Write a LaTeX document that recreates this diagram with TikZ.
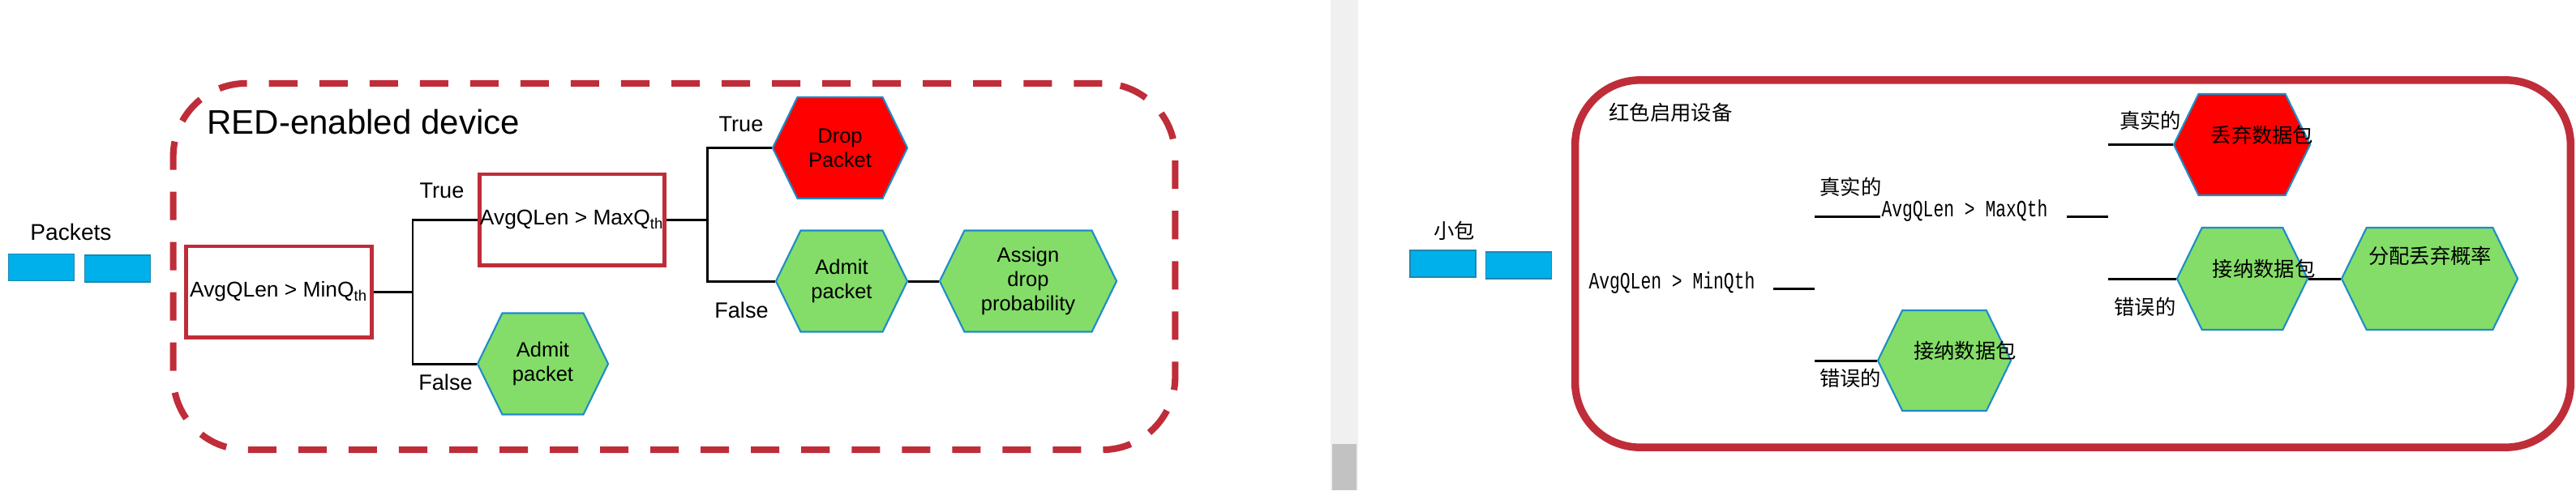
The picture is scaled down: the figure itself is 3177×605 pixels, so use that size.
\documentclass[tikz,border=0pt]{standalone}
\usepackage{fontspec}
\setmainfont{Liberation Sans}
\newfontfamily\cjk{Noto Sans CJK SC}
\newfontfamily\halfmono[FakeStretch=0.74]{Liberation Mono}
\usetikzlibrary{shapes.symbols}
\definecolor{redline}{HTML}{BF2D39}
\definecolor{pktblue}{HTML}{00B0EA}
\definecolor{pktedge}{HTML}{1C87B2}
\definecolor{hexgreen}{HTML}{84DD68}
\definecolor{hexred}{HTML}{FF0000}
\definecolor{hexedge}{HTML}{1E8CC8}

\begin{document}
\begin{tikzpicture}[x=0.01cm,y=-0.01cm,-,line width=0.85pt,
  pkt node/.style={rectangle,draw=pktedge,fill=pktblue,line width=0.5pt,minimum width=0.81cm,minimum height=0.33cm,inner sep=0pt},
  test node/.style={rectangle,draw=redline,line width=1.4pt,minimum height=1.12cm,inner sep=0pt,font=\fontsize{7.5}{9}\selectfont},
  hex node/.style={signal,signal to=east and west,signal pointer angle=128,draw=hexedge,fill=hexgreen,line width=0.6pt,minimum height=1.25cm,inner sep=0pt,align=center,font=\fontsize{7.25}{8.5}\selectfont},
  tag node/.style={inner sep=0pt,anchor=base,font=\fontsize{7.7}{9}\selectfont},
  cjk node/.style={inner sep=0pt,anchor=base,font=\cjk\fontsize{7.2}{8}\selectfont},
  mono node/.style={inner sep=0pt,anchor=base west,font=\halfmono\fontsize{8.2}{9}\selectfont}]

  \useasboundingbox (0,0) rectangle (3177,605);
  \fill[black!6] (1641,0) rectangle (1675,605);
  \fill[black!24] (1643,548) rectangle (1673,605);

  \node[rectangle,draw=redline,line width=2.3pt,dash pattern=on 9.96pt off 7.68pt,rounded corners=0.9cm,minimum width=12.35cm,minimum height=4.52cm] (device) at (831.5,329) {};
  \node[inner sep=0pt,anchor=base west,font=\fontsize{11.95}{14}\selectfont] (title) at (254,165) {RED-enabled device};
  \node[tag node,font=\fontsize{8}{9}\selectfont] (pk) at (87.5,296) {Packets};
  \node[pkt node] (p1) at (51,330) {};
  \node[pkt node] (p2) at (145,331.5) {};
  \node[test node,minimum width=2.29cm] (minq) at (344,360) {AvgQLen > MinQ\textsubscript{th}};
  \node[test node,minimum width=2.28cm] (maxq) at (705.5,271) {AvgQLen > MaxQ\textsubscript{th}};
  \node[hex node,minimum width=1.61cm] (admitA) at (669.5,449) {Admit\\packet};
  \node[hex node,minimum width=1.66cm,fill=hexred] (drop) at (1036,182.5) {Drop\\Packet};
  \node[hex node,minimum width=1.62cm] (admitB) at (1038,347) {Admit\\packet};
  \node[hex node,minimum width=2.18cm] (assign) at (1268,347) {Assign\\drop\\probability};
  \node[tag node] (t1) at (545,244) {True};
  \node[tag node] (f1) at (549.5,481) {False};
  \node[tag node] (t2) at (914,162) {True};
  \node[tag node] (f2) at (914.5,392) {False};
  \coordinate (j1) at (509,360);
  \coordinate (j2) at (872,271);

  \draw (minq.east) to (j1);
  \draw (j1) |- (maxq.west);
  \draw (j1) |- (admitA.west);
  \draw (maxq.east) to (j2);
  \draw (j2) |- (drop.west);
  \draw (j2) |- (admitB.west);
  \draw (admitB.east) to (assign.west);

  \node[rectangle,draw=redline,line width=2.7pt,rounded corners=0.8cm,minimum width=12.27cm,minimum height=4.53cm] (cdevice) at (2556.5,325.5) {};
  \node[cjk node] (ctitle) at (2060.5,148.5) {红色启用设备};
  \node[cjk node] (cpk) at (1793.5,294) {小包};
  \node[pkt node] (cp1) at (1779.5,325.5) {};
  \node[pkt node] (cp2) at (1873,327.5) {};
  \node[mono node] (cminq) at (1958,356) {AvgQLen > MinQth};
  \node[mono node] (cmaxq) at (2319,267) {AvgQLen > MaxQth};
  \node[hex node,minimum width=1.64cm,minimum height=1.24cm] (cadmitA) at (2398,445) {};
  \node[hex node,minimum width=1.68cm,fill=hexred] (cdrop) at (2765,178.5) {};
  \node[hex node,minimum width=1.61cm,minimum height=1.26cm] (cadmitB) at (2765.5,344) {};
  \node[hex node,minimum width=2.17cm,minimum height=1.26cm] (cassign) at (2996.5,344) {};
  \node[cjk node] (cadmitAt) at (2423.5,442.5) {接纳数据包};
  \node[cjk node] (cdropt) at (2790,176.5) {丢弃数据包};
  \node[cjk node] (cadmitBt) at (2792,341) {接纳数据包};
  \node[cjk node] (cassignt) at (2997,325.5) {分配丢弃概率};
  \node[cjk node] (ct1) at (2282.5,240.5) {真实的};
  \node[cjk node] (cf1) at (2282,476.5) {错误的};
  \node[cjk node] (ct2) at (2652,158.5) {真实的};
  \node[cjk node] (cf2) at (2645.5,388) {错误的};
  \coordinate (c1) at (2187,356);
  \coordinate (c2) at (2238,356);
  \coordinate (c3) at (2238,267);
  \coordinate (c4) at (2238,445);
  \coordinate (c5) at (2549,267);
  \coordinate (c6) at (2600,267);
  \coordinate (c7) at (2600,178.5);
  \coordinate (c8) at (2600,344);

  \draw (c1) to (c2);
  \draw (c3) to (cmaxq.base west);
  \draw (c5) to (c6);
  \draw (c7) to (cdrop.west);
  \draw (c8) to (cadmitB.west);
  \draw (cadmitB.east) to (cassign.west);
  \draw (c4) to (cadmitA.west);
\end{tikzpicture}
\end{document}
